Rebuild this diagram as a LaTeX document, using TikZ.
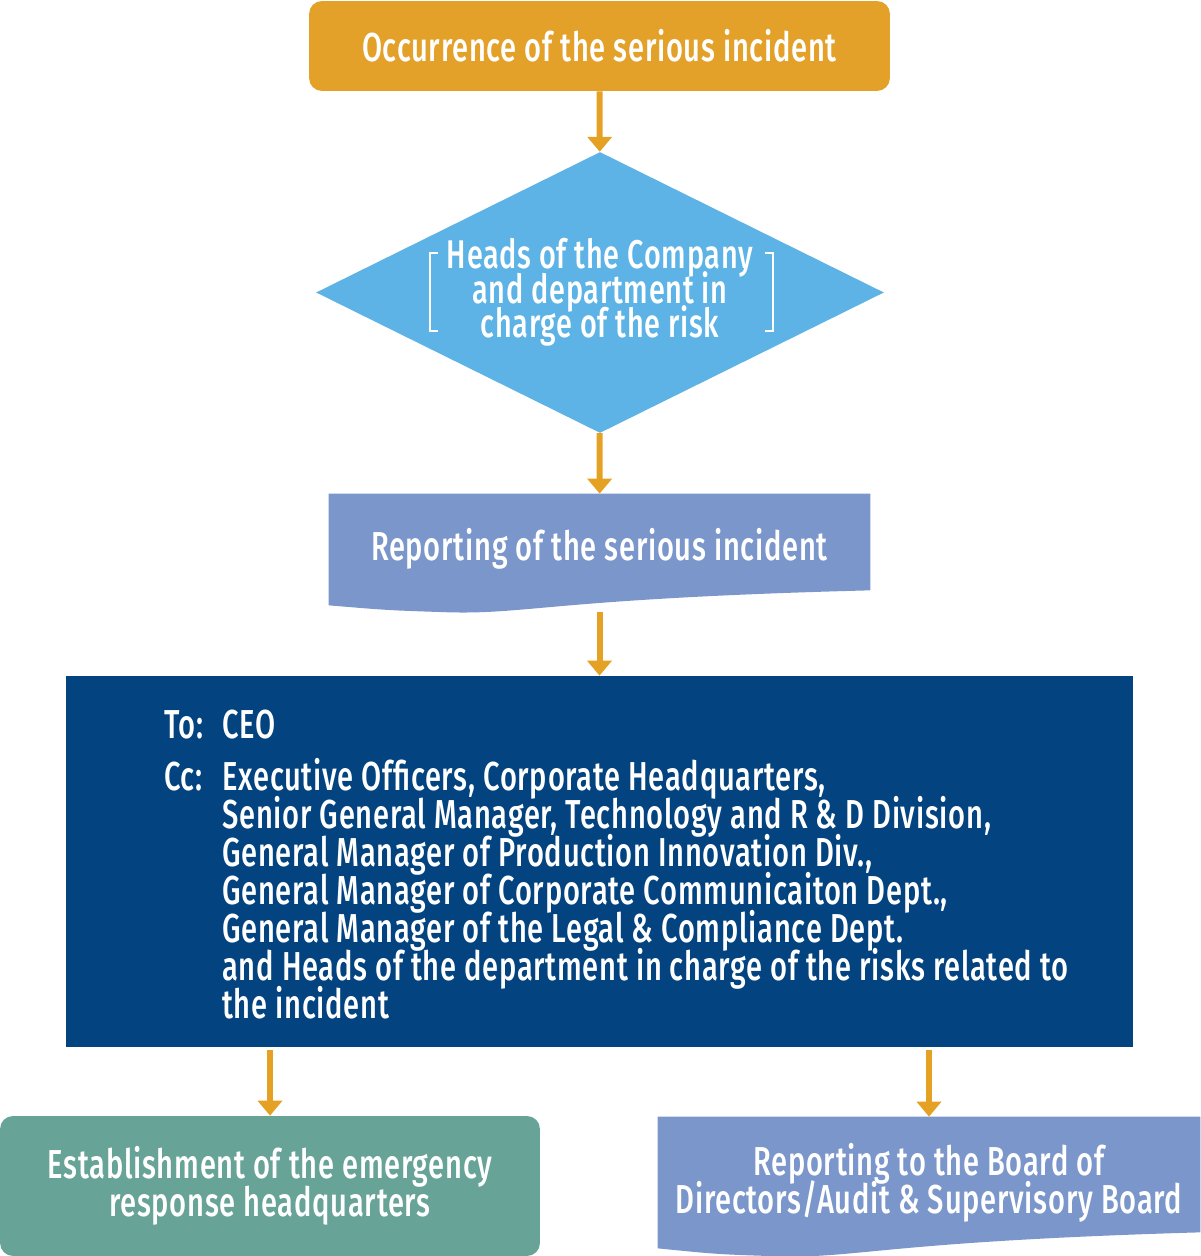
\documentclass[tikz,border=0pt]{standalone}
\usepackage{fontspec}
\setmainfont[FakeStretch=0.72,LetterSpace=1.8,BoldFont={Fira Sans Medium}]{Fira Sans}
\usetikzlibrary{shapes,arrows.meta,calc,positioning,backgrounds}
\definecolor{incorange}{HTML}{E3A129}
\definecolor{arroworange}{HTML}{E5A124}
\definecolor{headsblue}{HTML}{5DB3E5}
\definecolor{docblue}{HTML}{7A96CA}
\definecolor{ccnavy}{HTML}{03437F}
\definecolor{incteal}{HTML}{67A397}
\newcommand{\tightlines}{\lineskiplimit-100pt\relax}
\tikzset{fontscale/.style = {font=\fontsize{23}{21.6}\selectfont\bfseries\tightlines}}
\tikzstyle{cbox}=[rectangle, rounded corners=0.26cm, text=white, align=center, fontscale]
\tikzstyle{cdiamond}=[diamond, aspect=2.02, fill=headsblue, inner sep=0pt, minimum width=11.36cm, minimum height=5.62cm, text=white, align=center, font=\fontsize{22.8}{19.5}\selectfont\bfseries\tightlines]
\tikzstyle{cdoc}=[rectangle, text=white, align=center, fontscale]
\tikzstyle{cnavy}=[rectangle, fill=ccnavy, minimum width=21.34cm, minimum height=7.42cm]
\tikzstyle{ctext}=[rectangle, text=white, inner sep=0pt, align=left, fontscale]

\begin{document}
\begin{tikzpicture}[x=0.02cm, y=-0.02cm, flow/.style={line width=0.12cm, draw=arroworange, -{Triangle[width=0.48cm,length=0.3cm]}}, bracket/.style={white, line width=0.04cm}]
\useasboundingbox (0,0) rectangle (1200,1256);

% boxes
\node[cbox, fill=incorange, minimum width=11.62cm, minimum height=1.8cm] (occur) at (599.5,46) {Occurrence of the serious incident};
\node[cdiamond] (heads) at (600,292.5) {Heads of the Company\\and department in\\charge of the risk};
\node[cdoc, minimum width=10.82cm, minimum height=2.2cm] (report) at (599.5,549) {Reporting of the serious incident};
\node[cnavy] (recip) at (599.5,861.5) {};
\node[ctext, anchor=north west] (lab) at (164,710) {To:\\[0.28cm]Cc:};
\node[ctext, anchor=north west] (names) at (222,710) {CEO\\[0.28cm]
  Executive Officers, Corporate Headquarters,\\
  Senior General Manager, Technology and R \& D Division,\\
  General Manager of Production Innovation Div.,\\
  General Manager of Corporate Communicaiton Dept.,\\
  General Manager of the Legal \& Compliance Dept.\\
  and Heads of the department in charge of the risks related to\\
  the incident};
\node[cbox, fill=incteal, minimum width=10.8cm, minimum height=2.8cm] (emerg) at (270,1186) {Establishment of the emergency\\response headquarters};
\node[cdoc, minimum width=10.84cm, minimum height=2.64cm] (board) at (929,1183) {Reporting to the Board of\\Directors/Audit \& Supervisory Board};

% document shapes
\begin{pgfonlayer}{background}
  \fill[docblue] (report.north west) -- (report.north east) -- ($(report.south east)+(0,-14)$)
    .. controls ($(report.south)+(-40,-6)$) and ($(report.south west)+(200,10)$) .. ($(report.south west)+(121,8)$)
    .. controls ($(report.south west)+(60,6)$) .. ($(report.south west)+(0,1)$) -- cycle;
  \fill[docblue] (board.north west) -- (board.north east) -- ($(board.south east)+(0,-17)$)
    .. controls ($(board.south)+(-40,-8)$) and ($(board.south west)+(200,9)$) .. ($(board.south west)+(122,7)$)
    .. controls ($(board.south west)+(60,5)$) .. ($(board.south west)+(0,-1)$) -- cycle;
\end{pgfonlayer}

% brackets
\draw[bracket] ($(heads)+(-162,-39.5)$) -- ++(-8,0) -- ++(0,78) -- ++(8,0);
\draw[bracket] ($(heads)+(165,-39.5)$) -- ++(8,0) -- ++(0,78) -- ++(-8,0);

% arrows
\draw[flow] (occur) -- (heads);
\draw[flow] (heads) -- (report);
\draw[flow] ($(report.south)+(0,8)$) -- (recip);
\draw[flow] ($(recip.south -| emerg.north)+(0,3)$) -- (emerg);
\draw[flow] ($(recip.south -| board.north)+(0,3)$) -- (board);
\end{tikzpicture}
\end{document}
